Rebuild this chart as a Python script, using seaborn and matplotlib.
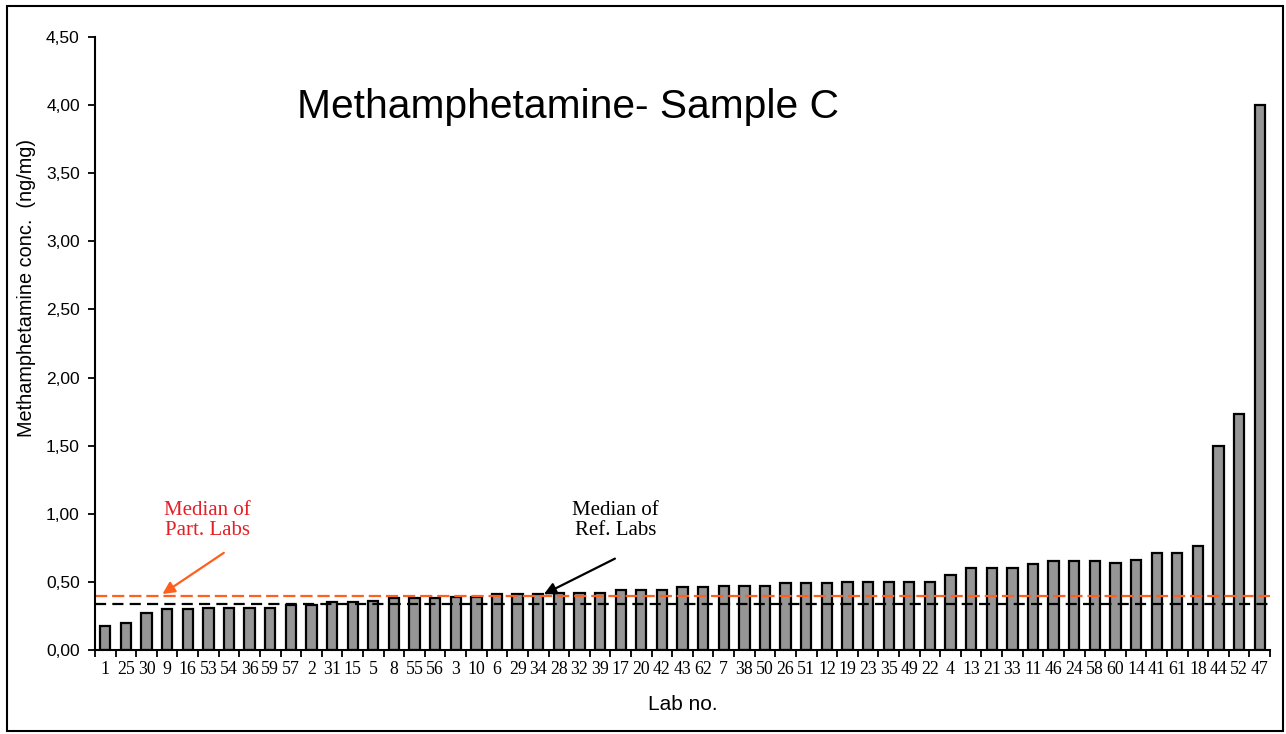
import matplotlib
matplotlib.use("Agg")
import matplotlib.pyplot as plt
from matplotlib.patches import Rectangle
from matplotlib.ticker import FuncFormatter
import numpy as np
import pandas as pd
import seaborn as sns

# lab numbers in the order shown, and their methamphetamine results (ng/mg)
labs = ['1', '25', '30', '9', '16', '53', '54', '36', '59', '57', '2', '31', '15', '5',
        '8', '55', '56', '3', '10', '6', '29', '34', '28', '32', '39', '17', '20', '42',
        '43', '62', '7', '38', '50', '26', '51', '12', '19', '23', '35', '49', '22', '4',
        '13', '21', '33', '11', '46', '24', '58', '60', '14', '41', '61', '18', '44',
        '52', '47']
conc = [0.18, 0.20, 0.27, 0.30, 0.30, 0.31, 0.31, 0.31, 0.31, 0.33, 0.33, 0.35, 0.35, 0.36,
        0.38, 0.38, 0.38, 0.39, 0.39, 0.41, 0.41, 0.41, 0.42, 0.42, 0.42, 0.44, 0.44, 0.44,
        0.46, 0.46, 0.47, 0.47, 0.47, 0.49, 0.49, 0.49, 0.50, 0.50, 0.50, 0.50, 0.50, 0.55,
        0.60, 0.60, 0.60, 0.63, 0.65, 0.65, 0.65, 0.64, 0.66, 0.71, 0.71, 0.76, 1.50,
        1.73, 4.00]
median_part = 0.40
median_ref = 0.34

orange = '#FF5F1F'
red_text = '#E41F25'

sns.set_theme(style="ticks")
plt.rcParams['font.family'] = ['Liberation Sans', 'DejaVu Sans']
plt.rcParams['text.color'] = 'black'
plt.rcParams['axes.labelcolor'] = 'black'
plt.rcParams['xtick.color'] = 'black'
plt.rcParams['ytick.color'] = 'black'

df = pd.DataFrame({'Lab no.': labs, 'conc': conc})

fig = plt.figure(figsize=(12.86, 7.34), dpi=100)
ax = fig.add_axes([0.0739, 0.1144, 0.9137, 0.8352])

sns.barplot(data=df, x='Lab no.', y='conc', order=labs, color='#969696',
            saturation=1, edgecolor='black', linewidth=1.6, width=0.5, ax=ax)

ax.axhline(median_part, color=orange, lw=1.6, dashes=(5.5, 2.2))
ax.axhline(median_ref, color='black', lw=1.6, dashes=(5, 2.8))

ax.set_xlim(-0.5, len(labs) - 0.5)
ax.set_ylim(0, 4.5)
ax.set_yticks(np.arange(0, 4.51, 0.5))
ax.yaxis.set_major_formatter(FuncFormatter(lambda v, p: f"{v:.2f}".replace('.', ',')))

# excel style: tick marks between the categories
ax.set_xticks(np.arange(-0.5, len(labs)), minor=True)
ax.tick_params(axis='x', which='major', length=0, pad=8)
ax.tick_params(axis='x', which='minor', length=5, width=1.3, direction='out', color='black')
ax.tick_params(axis='y', length=5, width=1.3, direction='out', color='black',
               labelsize=12.5, pad=6)
for lab in ax.get_xticklabels():
    lab.set_fontfamily(['Liberation Serif', 'DejaVu Serif'])
    lab.set_fontsize(12.8)

for s in ['left', 'bottom']:
    ax.spines[s].set_linewidth(1.5)
    ax.spines[s].set_color('black')
sns.despine(ax=ax)

ax.set_xlabel('Lab no.', fontsize=15, labelpad=12)
ax.set_ylabel('Methamphetamine conc.  (ng/mg)', fontsize=14.3)
ax.yaxis.set_label_coords(-0.05, 0.59)

ax.text(0.172, 0.868, 'Methamphetamine- Sample C', transform=ax.transAxes,
        fontsize=29.3, va='baseline', ha='left')

# median annotations
serif = ['Liberation Serif', 'DejaVu Serif']
ax.text(4.94, 0.95, 'Median of\nPart. Labs', color=red_text, fontsize=15,
        family=serif, ha='center', va='center', linespacing=1.05)
ax.annotate('', xy=(2.66, 0.40), xytext=(5.86, 0.725),
            arrowprops=dict(arrowstyle='-|>', color=orange, lw=1.6, mutation_scale=18))
ax.text(24.74, 0.95, 'Median of\nRef. Labs', color='black', fontsize=15,
        family=serif, ha='center', va='center', linespacing=1.05)
ax.annotate('', xy=(21.15, 0.40), xytext=(24.84, 0.68),
            arrowprops=dict(arrowstyle='-|>', color='black', lw=1.6, mutation_scale=18))

# frame around the whole chart
fig.add_artist(Rectangle((7 / 1286, 3 / 734), 1276 / 1286, 725 / 734,
                         transform=fig.transFigure, fill=False, lw=1.5, color='black'))

fig.savefig('out.png', dpi=100)
